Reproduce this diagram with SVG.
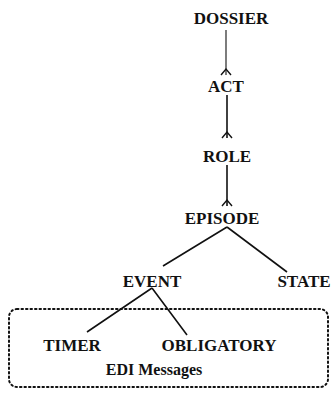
<svg xmlns="http://www.w3.org/2000/svg" width="334" height="393" viewBox="0 0 334 393">
<style>
text{font-weight:bold;font-size:17px;fill:#111;text-anchor:middle}
.l{stroke:#111;stroke-width:1.6;fill:none}
.f{stroke:#111;stroke-width:1.4;fill:none}
.box{stroke:#111;stroke-width:2;fill:none;stroke-dasharray:1.5 3;stroke-linecap:round}
</style>
<rect width="334" height="393" fill="#fff"/>
<g id="connectors">
<path class="l" d="M226 30V75" style="stroke-width:1.1"/><path class="f" d="M221 75L226 69L231 75"/>
<path class="l" d="M227 95V138"/><path class="f" d="M222 138L227 132L232 138"/>
<path class="l" d="M227 165V206"/><path class="f" d="M222 206L227 200L232 206"/>
<path class="l" d="M227 227L163 266M227 227L287 272"/>
<path class="l" d="M152 288L87 332M152 288L187 335"/>
</g>
<g font-family="'Liberation Serif', 'DejaVu Serif', serif">
<g id="dossier"><text x="231" y="24">DOSSIER</text></g>
<g id="act"><text x="226" y="92">ACT</text></g>
<g id="role"><text x="227" y="162">ROLE</text></g>
<g id="episode"><text x="222" y="224">EPISODE</text></g>
<g id="event"><text x="152" y="287">EVENT</text></g>
<g id="state"><text x="304" y="287">STATE</text></g>
<g id="edi-messages">
<rect class="box" x="9" y="309" width="319" height="78" rx="8"/>
<text x="154" y="375" style="font-size:16px">EDI Messages</text>
</g>
<g id="timer"><text x="72" y="351">TIMER</text></g>
<g id="obligatory"><text x="219" y="351">OBLIGATORY</text></g>
</g>
</svg>
